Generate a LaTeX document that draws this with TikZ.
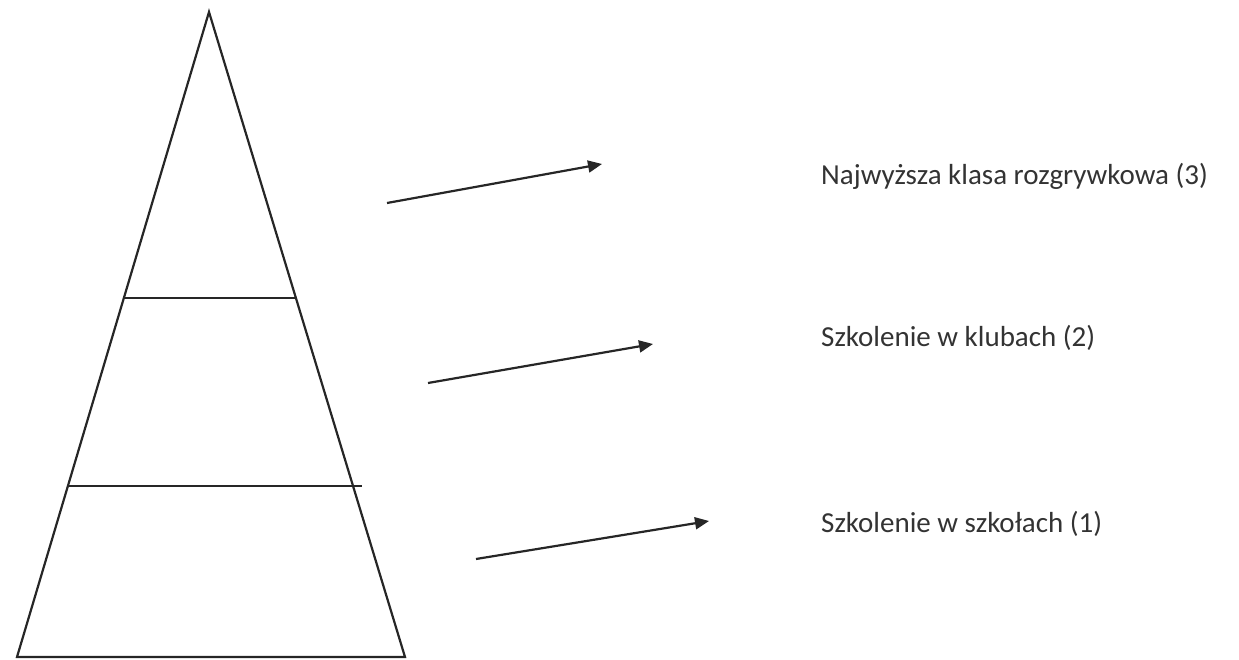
\documentclass[tikz,border=0pt]{standalone}
\usepackage{fontspec}
\setmainfont{Carlito}
\usetikzlibrary{arrows.meta}
\begin{document}
\begin{tikzpicture}[x=1pt,y=-1pt,
  edge/.style={draw=black!85,line width=2.2pt},
  arr/.style={draw=black!85,line width=2.2pt,-{Triangle[length=14pt,width=12pt]}},
  lbl/.style={anchor=west,inner sep=0pt,text=black!80,font=\fontsize{29}{34}\selectfont}]
\useasboundingbox (0,0) rectangle (1239,660);
\coordinate (apex) at (209,12);
\coordinate (bl) at (17,657);
\coordinate (br) at (405,657);
\draw[edge,line join=miter] (apex) -- (bl) -- (br) -- cycle;
\coordinate (l1a) at (125,298);
\coordinate (l1b) at (296,298);
\coordinate (l2a) at (68,486);
\coordinate (l2b) at (362,486);
\draw[edge] (l1a) -- (l1b);
\draw[edge] (l2a) -- (l2b);
\coordinate (a1s) at (387,203);
\coordinate (a1e) at (602,164);
\coordinate (a2s) at (428,383);
\coordinate (a2e) at (653,344);
\coordinate (a3s) at (476,559);
\coordinate (a3e) at (709,521);
\draw[arr] (a1s) -- (a1e);
\draw[arr] (a2s) -- (a2e);
\draw[arr] (a3s) -- (a3e);
\node[lbl] (t3) at (821,176) {Najwyższa klasa rozgrywkowa (3)};
\node[lbl] (t2) at (821,338) {Szkolenie w klubach (2)};
\node[lbl] (t1) at (821,524) {Szkolenie w szkołach (1)};
\end{tikzpicture}
\end{document}
